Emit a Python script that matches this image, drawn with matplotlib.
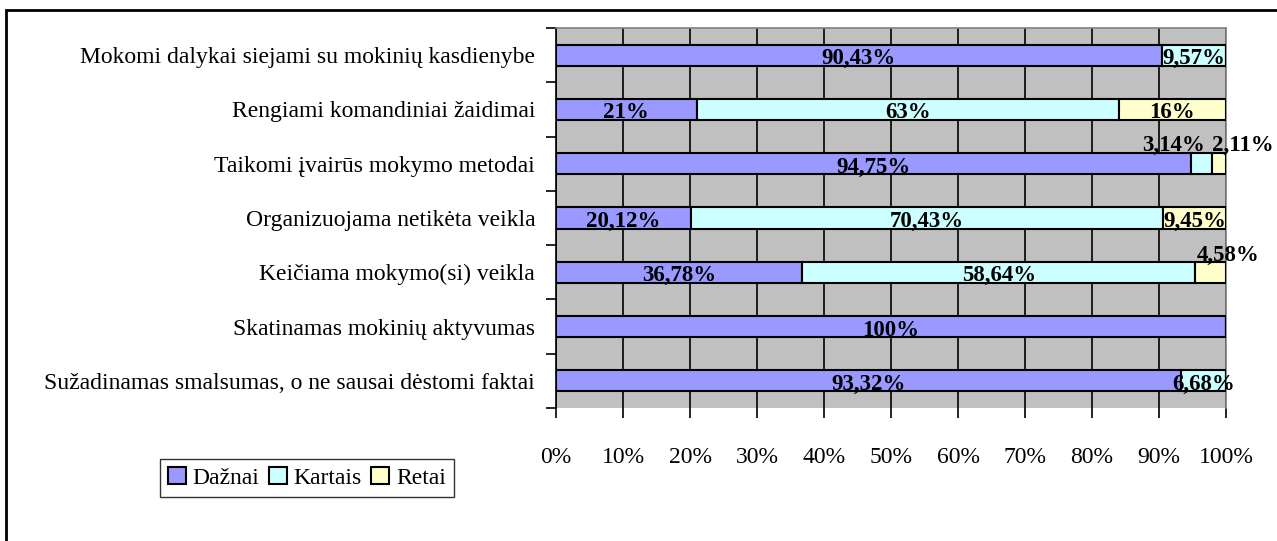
import matplotlib
matplotlib.use("Agg")
import matplotlib.pyplot as plt
from matplotlib.patches import Rectangle
import numpy as np

categories = [
    "Mokomi dalykai siejami su mokinių kasdienybe",
    "Rengiami komandiniai žaidimai",
    "Taikomi įvairūs mokymo metodai",
    "Organizuojama netikėta veikla",
    "Keičiama mokymo(si) veikla",
    "Skatinamas mokinių aktyvumas",
    "Sužadinamas smalsumas, o ne sausai dėstomi faktai",
]
daznai = [90.43, 21, 94.75, 20.12, 36.78, 100, 93.32]
kartais = [9.57, 63, 3.14, 70.43, 58.64, 0, 6.68]
retai = [0, 16, 2.11, 9.45, 4.58, 0, 0]
daznai_lbl = ["90,43%", "21%", "94,75%", "20,12%", "36,78%", "100%", "93,32%"]
kartais_lbl = ["9,57%", "63%", "3,14%", "70,43%", "58,64%", "", "6,68%"]
retai_lbl = ["", "16%", "2,11%", "9,45%", "4,58%", "", ""]
series_names = ["Dažnai", "Kartais", "Retai"]
colors = ["#9999FF", "#CCFFFF", "#FFFFCC"]
xticks = [0, 10, 20, 30, 40, 50, 60, 70, 80, 90, 100]
xtick_lbl = [f"{v}%" for v in xticks]

plt.rcParams["font.family"] = ["Liberation Serif", "DejaVu Serif"]

fig = plt.figure(figsize=(12.77, 5.41), dpi=100)
W, H = 1277, 541
ax = fig.add_axes([556 / W, 1 - 408 / H, (1226 - 556) / W, (408 - 28) / H])
ax.set_facecolor("#C0C0C0")

n = len(categories)
ypos = np.arange(n)[::-1]
bh = 0.39
data = [daznai, kartais, retai]
labels = [daznai_lbl, kartais_lbl, retai_lbl]
left = np.zeros(n)
for vals, col, name in zip(data, colors, series_names):
    ax.barh(ypos, vals, left=left, height=bh, color=col, edgecolor="black",
            linewidth=1.5, label=name, zorder=3)
    left = left + np.array(vals)

# labels
left = np.zeros(n)
offsets = {(1, 2): (-28, 22), (2, 2): (24, 22), (2, 4): (17, 20)}
for si, (vals, lbls) in enumerate(zip(data, labels)):
    for i in range(n):
        if lbls[i]:
            cx = left[i] + vals[i] / 2
            dx, dy = offsets.get((si, i), (0, 0))
            ax.annotate(lbls[i], (cx, ypos[i]), xytext=(dx * 0.72, dy * 0.72 - 2.5),
                        textcoords="offset points", ha="center", va="center",
                        fontsize=16.5, fontweight="bold", zorder=5)
    left = left + np.array(vals)

ax.set_xlim(0, 100)
ax.set_ylim(-0.5, n - 0.5)
ax.set_xticks(xticks)
ax.set_xticklabels(xtick_lbl, fontsize=17)
ax.xaxis.grid(True, color="black", linewidth=1.2, zorder=1)
ax.set_axisbelow(True)
ax.tick_params(axis="x", direction="out", length=7, width=1.2, pad=21)
ax.set_yticks(np.arange(-0.5, n, 1.0))
ax.set_yticklabels([])
ax.set_yticks(ypos, minor=True)
ax.set_yticklabels(categories, minor=True, fontsize=17)
ax.tick_params(axis="y", which="major", direction="out", length=7, width=1.2)
ax.tick_params(axis="y", which="minor", length=0, pad=15)
for s in ["top", "right"]:
    ax.spines[s].set_color("#808080")
    ax.spines[s].set_linewidth(1.2)
for s in ["left", "bottom"]:
    ax.spines[s].set_color("black")
    ax.spines[s].set_linewidth(1.2)
ax.spines["bottom"].set_visible(False)

leg = ax.legend(loc="center", bbox_to_anchor=(307 / W, 1 - 478 / H),
                bbox_transform=fig.transFigure, ncol=3, fontsize=17,
                frameon=True, fancybox=False, edgecolor="black",
                handlelength=0.75, handleheight=0.75, handletextpad=0.3,
                columnspacing=0.4, borderpad=0.35, borderaxespad=0)
leg.get_frame().set_linewidth(1.0)

fig.patches.append(Rectangle((6 / W, -0.01), 1.02, 1 - 10 / H + 0.01,
                             transform=fig.transFigure, fill=False,
                             edgecolor="black", linewidth=2, zorder=10))

fig.savefig("out.png", dpi=100)
